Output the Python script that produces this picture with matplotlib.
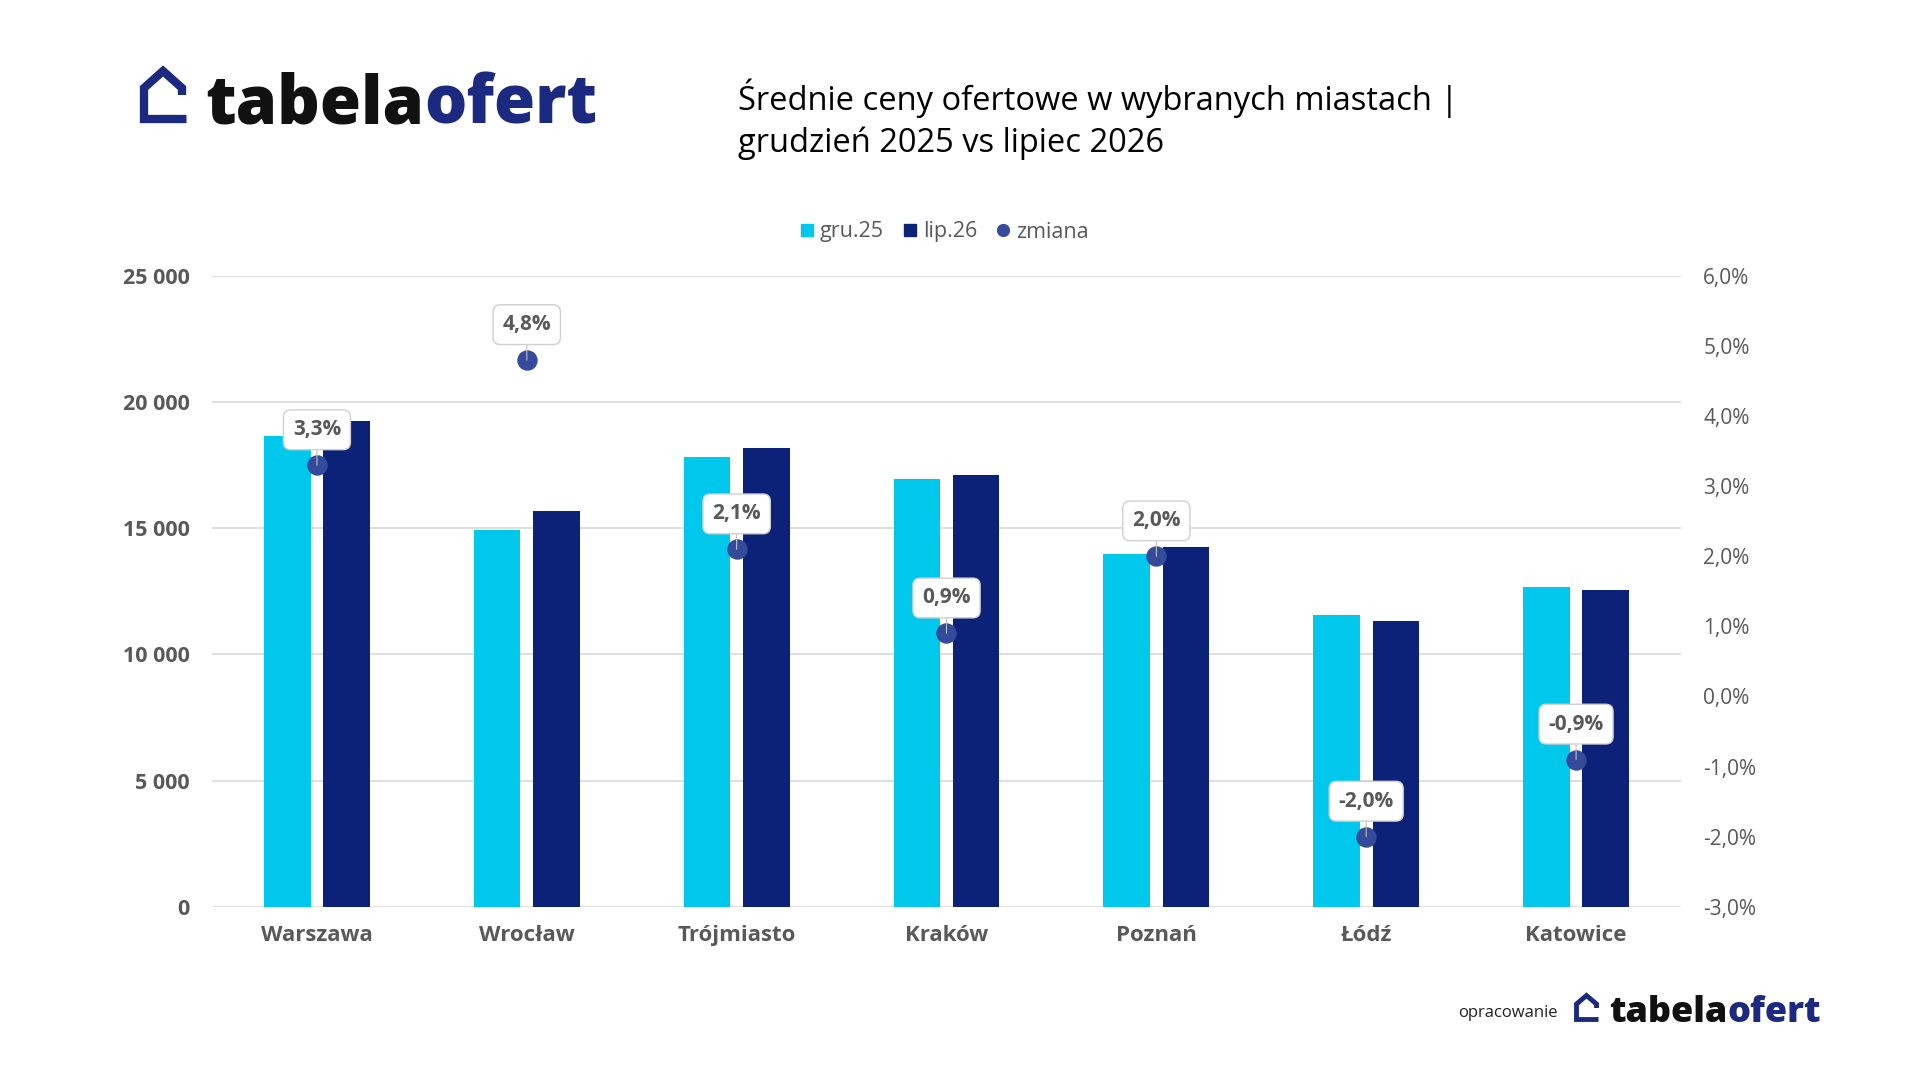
import matplotlib
matplotlib.use('Agg')
import matplotlib.pyplot as plt
from matplotlib.lines import Line2D
import numpy as np

# ---------------- data ----------------
cities = ['Warszawa', 'Wrocław', 'Trójmiasto', 'Kraków', 'Poznań', 'Łódź', 'Katowice']
gru25 = [18650, 14950, 17820, 16950, 13980, 11560, 12680]
lip26 = [19270, 15670, 18190, 17100, 14270, 11330, 12570]
zmiana = [3.3, 4.8, 2.1, 0.9, 2.0, -2.0, -0.9]
series_names = ['gru.25', 'lip.26', 'zmiana']
left_ticks = [0, 5000, 10000, 15000, 20000, 25000]
left_tick_labels = ['0', '5 000', '10 000', '15 000', '20 000', '25 000']
right_ticks = [-3, -2, -1, 0, 1, 2, 3, 4, 5, 6]
right_tick_labels = ['-3,0%', '-2,0%', '-1,0%', '0,0%', '1,0%', '2,0%', '3,0%', '4,0%', '5,0%', '6,0%']
title_lines = ['Średnie ceny ofertowe w wybranych miastach |', 'grudzień 2025 vs lipiec 2026']

# ---------------- style ----------------
C_LIGHT = '#00C8EC'
C_DARK = '#0B2278'
C_DOT = '#344B9B'
C_TXT = '#595959'
C_NAVY = '#1B2A80'
FONT = 'Open Sans'
plt.rcParams['font.family'] = [FONT, 'DejaVu Sans']

W, H = 1920, 1080
fig = plt.figure(figsize=(19.2, 10.8), dpi=100)
fig.patch.set_facecolor('white')


def fx(px):
    return px / W


def fy(py):
    return 1 - py / H


# ---------------- axes ----------------
ax = fig.add_axes([fx(212), fy(906.7), (1681 - 212) / W, (906.7 - 276) / H])
x = np.arange(len(cities))
bw = 0.222
off = 0.141
ax.bar(x - off, gru25, bw, color=C_LIGHT, zorder=2, label=series_names[0])
ax.bar(x + off, lip26, bw, color=C_DARK, zorder=2, label=series_names[1])
ax.set_xlim(-0.5, len(cities) - 0.5)
ax.set_ylim(left_ticks[0], left_ticks[-1])
ax.set_yticks(left_ticks, left_tick_labels, fontweight='bold', fontsize=15.5, color=C_TXT)
ax.set_xticks(x, cities, fontweight='bold', fontsize=16, color=C_TXT)
ax.tick_params(axis='y', length=0, pad=16)
ax.tick_params(axis='x', length=0, pad=13)
ax.set_axisbelow(True)
ax.grid(axis='y', color='#dcdcdc', lw=1.3)
for s in ax.spines.values():
    s.set_visible(False)

ax2 = ax.twinx()
ax2.set_ylim(right_ticks[0], right_ticks[-1])
ax2.set_yticks(right_ticks, right_tick_labels, fontsize=15, color=C_TXT)
ax2.tick_params(axis='y', length=0, pad=16)
for s in ax2.spines.values():
    s.set_visible(False)
ax2.plot(x, zmiana, 'o', ms=13.7, color=C_DOT, zorder=5, label=series_names[2])
for xi, v in zip(x, zmiana):
    ax2.annotate(f'{v:.1f}%'.replace('.', ','), (xi, v), xytext=(0, 25.5),
                 textcoords='offset points', ha='center', va='center',
                 fontsize=15, fontweight='bold', color=C_TXT, zorder=6,
                 bbox=dict(boxstyle='round,pad=0.45,rounding_size=0.35',
                           fc='white', ec='#d0d0d0', lw=1),
                 arrowprops=dict(arrowstyle='-', color='#bfbfbf', lw=0.8,
                                 shrinkA=0, shrinkB=0))

# ---------------- legend ----------------
handles = [
    Line2D([], [], marker='s', ls='none', color=C_LIGHT, ms=9),
    Line2D([], [], marker='s', ls='none', color=C_DARK, ms=9),
    Line2D([], [], marker='o', ls='none', color=C_DOT, ms=8.5),
]
fig.legend(handles, series_names, loc='center', bbox_to_anchor=(fx(944.5), fy(232)),
           ncol=3, frameon=False, fontsize=15.5, labelcolor=C_TXT,
           handlelength=0.6, handletextpad=0.3, columnspacing=0.9)

# ---------------- title ----------------
fig.text(fx(738), fy(110), title_lines[0], fontsize=23.5, color='black', va='baseline')
fig.text(fx(738), fy(152), title_lines[1], fontsize=23.5, color='black', va='baseline')

# ---------------- logos ----------------
renderer = fig.canvas.get_renderer()


def logo(x0, ybase, size):
    t1 = fig.text(fx(x0), fy(ybase), 'tabela', fontsize=size, fontweight='heavy',
                  color='#111111', va='baseline')
    bb = t1.get_window_extent(renderer)
    fig.text(bb.x1 / W, fy(ybase), 'ofert', fontsize=size, fontweight='heavy',
             color=C_NAVY, va='baseline')


def house(pts, lw):
    xs = [fx(p[0]) for p in pts]
    ys = [fy(p[1]) for p in pts]
    fig.add_artist(Line2D(xs, ys, transform=fig.transFigure, color=C_NAVY, lw=lw,
                          solid_joinstyle='miter', solid_capstyle='butt'))


logo(205, 123, 48)
house([(186.5, 119), (144, 119), (144, 88), (163, 71), (182, 88), (182, 95)], 6)

fig.text(fx(1458), fy(1017), 'opracowanie', fontsize=12, color='#222222', va='baseline')
logo(1609, 1021.5, 26)
house([(1598.5, 1019.5), (1576.5, 1019.5), (1576.5, 1004), (1586.5, 995.5),
       (1596.5, 1004), (1596.5, 1008)], 3.5)

fig.savefig('out.png', dpi=100, facecolor='white')
